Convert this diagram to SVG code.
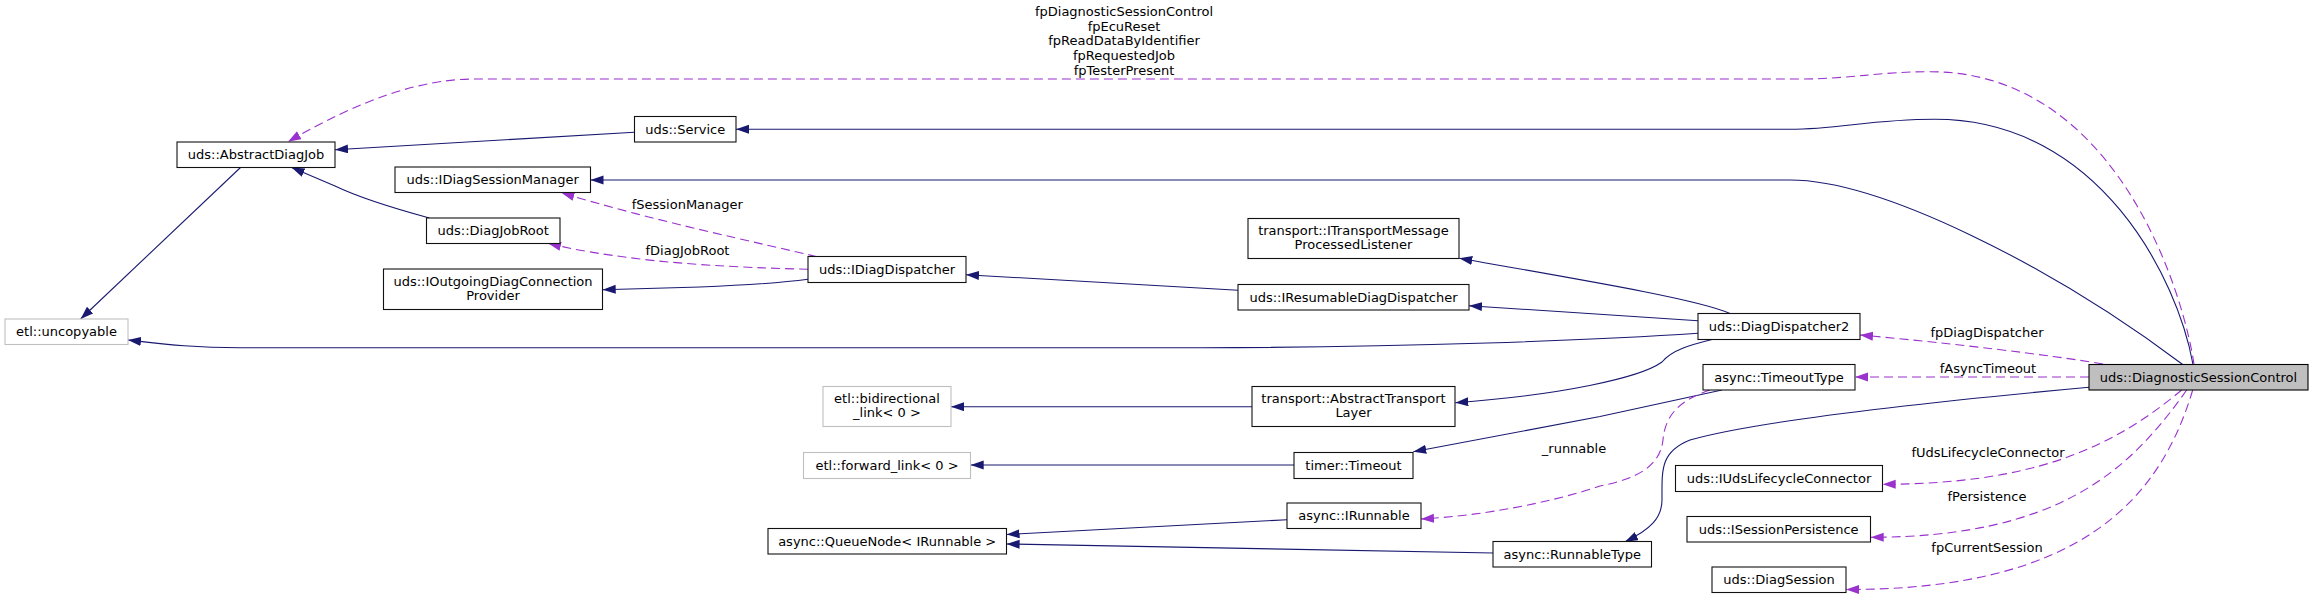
<svg xmlns="http://www.w3.org/2000/svg" width="2313" height="599" viewBox="0 0 2313 599">
<style>
.n rect{fill:#fff;stroke:#111;stroke-width:1.1}
.n.g rect{stroke:#bfbfbf}
.n.m rect{fill:#bfbfbf;stroke:#000}
text{font-family:"DejaVu Sans","Liberation Sans",sans-serif;font-size:13px;fill:#000;text-anchor:middle}
.e path{fill:none;stroke-width:1.1}
.i{stroke:#191970;marker-end:url(#ai)}
.u{stroke:#9a32cd;stroke-dasharray:9,5;marker-end:url(#au)}
</style>
<defs>
<marker id="ai" markerUnits="userSpaceOnUse" markerWidth="14" markerHeight="10" refX="13" refY="4.5" orient="auto"><path d="M0,0 L13,4.5 L0,9 z" fill="#191970"/></marker>
<marker id="au" markerUnits="userSpaceOnUse" markerWidth="14" markerHeight="10" refX="13" refY="4.5" orient="auto"><path d="M0,0 L13,4.5 L0,9 z" fill="#9a32cd"/></marker>
</defs>
<rect width="2313" height="599" fill="#fff"/>
<g id="edges" class="e">
<path class="i" d="M634.5,132.3 L335,149.7"/>
<path class="i" d="M429.4,218 C400,210 360,198 335,186 L291.6,167.5"/>
<path class="i" d="M240.5,167.5 L80.6,319"/>
<path class="i" d="M2193,364.5 C2178,280 2100,119.3 1935,119.3 C1870,119.3 1840,129.3 1790,129.3 L736,129.3"/>
<path class="i" d="M2182.7,364.5 C2050,265 1880,180 1790,180 L590.5,180"/>
<path class="i" d="M1730,313.5 C1700,300 1600,283 1459.3,258.3"/>
<path class="i" d="M1698,320.7 L1469,305.7"/>
<path class="i" d="M1238,290.3 L966,274.7"/>
<path class="i" d="M808,279.3 C780,283 750,285 700,287 L602.7,289.7"/>
<path class="i" d="M1698,333.3 C1600,340 1400,347.7 1200,347.7 L240,347.7 C190,347.7 160,343.5 128,340"/>
<path class="i" d="M1713,339.3 C1690,345 1672,350 1662,362 C1640,378 1560,395 1455.3,402.7"/>
<path class="i" d="M1252,406.7 L951,406.7"/>
<path class="i" d="M1722,390 L1600,416.5 L1413.3,451.7"/>
<path class="i" d="M1294,465 L970.7,465"/>
<path class="i" d="M1287,519.7 L1006.6,534.5"/>
<path class="i" d="M1493,553 C1300,550 1150,547 1006.6,544"/>
<path class="i" d="M2089,387.3 C1950,400 1760,420 1690,440 C1660,452 1662,470 1662,500 C1662,518 1650,530 1625,541.7"/>
<path class="u" d="M2194,364.5 C2185,300 2120,71.7 1930,71.7 C1880,71.7 1850,79 1800,79 L475,79 C420,79 360,100 288,141.7"/>
<path class="u" d="M817,256.7 C760,243 650,220 561.4,192.7"/>
<path class="u" d="M808,269.3 C760,268 700,266 640,259 C600,254 575,250 548,243.3"/>
<path class="u" d="M2103,364 C2050,355 1950,343 1860,335"/>
<path class="u" d="M2089,377 L1855,377"/>
<path class="u" d="M1710,390 C1680,400 1665,415 1663,440 C1660,465 1640,478 1600,486 C1550,503 1480,516 1421,519"/>
<path class="u" d="M2181.7,390 C2110,450 2030,484 1882.7,484.3"/>
<path class="u" d="M2186.7,390 C2130,470 2060,537 1870.7,537.3"/>
<path class="u" d="M2192.7,390 C2160,500 2080,590 1846,589.5"/>
<text x="1124" y="16.2">fpDiagnosticSessionControl</text>
<text x="1124" y="30.8">fpEcuReset</text>
<text x="1124" y="45.2">fpReadDataByIdentifier</text>
<text x="1124" y="59.8">fpRequestedJob</text>
<text x="1124" y="74.5">fpTesterPresent</text>
<text x="687.3" y="208.8">fSessionManager</text>
<text x="687.5" y="254.8">fDiagJobRoot</text>
<text x="1987" y="336.8">fpDiagDispatcher</text>
<text x="1988" y="372.8">fAsyncTimeout</text>
<text x="1574" y="452.8">_runnable</text>
<text x="1988" y="456.8">fUdsLifecycleConnector</text>
<text x="1987" y="500.8">fPersistence</text>
<text x="1987" y="551.8">fpCurrentSession</text>
</g>
<g id="n_AbstractDiagJob" class="n"><rect x="177" y="142" width="158" height="25.5"/><text x="256" y="159">uds::AbstractDiagJob</text></g>
<g id="n_Service" class="n"><rect x="634.5" y="116.5" width="101.5" height="25.5"/><text x="685.2" y="133.7">uds::Service</text></g>
<g id="n_IDiagSessionManager" class="n"><rect x="395" y="167" width="195.5" height="25.5"/><text x="492.7" y="184.2">uds::IDiagSessionManager</text></g>
<g id="n_DiagJobRoot" class="n"><rect x="426.5" y="218" width="133.5" height="25.5"/><text x="493.2" y="235.2">uds::DiagJobRoot</text></g>
<g id="n_IOutgoingDiagConnectionProvider" class="n"><rect x="383.5" y="269" width="219" height="40.5"/><text x="493" y="285.7">uds::IOutgoingDiagConnection</text><text x="493" y="299.9">Provider</text></g>
<g id="n_uncopyable" class="n g"><rect x="5" y="319" width="123" height="25.5"/><text x="66.5" y="336.2">etl::uncopyable</text></g>
<g id="n_IDiagDispatcher" class="n"><rect x="808" y="256.5" width="158" height="26"/><text x="887" y="274">uds::IDiagDispatcher</text></g>
<g id="n_ITransportMessageProcessedListener" class="n"><rect x="1248" y="218.5" width="211" height="40"/><text x="1353.5" y="234.8">transport::ITransportMessage</text><text x="1353.5" y="248.8">ProcessedListener</text></g>
<g id="n_IResumableDiagDispatcher" class="n"><rect x="1238" y="284.5" width="231" height="25.5"/><text x="1353.5" y="301.7">uds::IResumableDiagDispatcher</text></g>
<g id="n_DiagDispatcher2" class="n"><rect x="1698" y="313.5" width="162" height="26"/><text x="1779" y="331">uds::DiagDispatcher2</text></g>
<g id="n_bidirectional_link" class="n g"><rect x="823" y="386.5" width="128" height="40"/><text x="887" y="402.8">etl::bidirectional</text><text x="887" y="416.8">_link&lt; 0 &gt;</text></g>
<g id="n_AbstractTransportLayer" class="n"><rect x="1252" y="386.5" width="203" height="40"/><text x="1353.5" y="403.2">transport::AbstractTransport</text><text x="1353.5" y="417.2">Layer</text></g>
<g id="n_TimeoutType" class="n"><rect x="1703" y="364.5" width="152" height="25.5"/><text x="1779" y="381.7">async::TimeoutType</text></g>
<g id="n_forward_link" class="n g"><rect x="803.5" y="452.5" width="167" height="26"/><text x="887" y="470">etl::forward_link&lt; 0 &gt;</text></g>
<g id="n_Timeout" class="n"><rect x="1294" y="452.5" width="119" height="26"/><text x="1353.5" y="470">timer::Timeout</text></g>
<g id="n_DiagnosticSessionControl" class="n m"><rect x="2089" y="364.5" width="219" height="25.5"/><text x="2198.5" y="381.7">uds::DiagnosticSessionControl</text></g>
<g id="n_IRunnable" class="n"><rect x="1287" y="503" width="134" height="25.5"/><text x="1354" y="520.2">async::IRunnable</text></g>
<g id="n_QueueNode" class="n"><rect x="768" y="528.5" width="238.5" height="25.5"/><text x="887.2" y="545.7">async::QueueNode&lt; IRunnable &gt;</text></g>
<g id="n_RunnableType" class="n"><rect x="1493" y="541.5" width="158.5" height="25.5"/><text x="1572.2" y="558.7">async::RunnableType</text></g>
<g id="n_IUdsLifecycleConnector" class="n"><rect x="1675.5" y="465.5" width="207" height="26"/><text x="1779" y="483">uds::IUdsLifecycleConnector</text></g>
<g id="n_ISessionPersistence" class="n"><rect x="1687" y="516.5" width="183.5" height="25.5"/><text x="1778.7" y="533.7">uds::ISessionPersistence</text></g>
<g id="n_DiagSession" class="n"><rect x="1712" y="567" width="134" height="25.5"/><text x="1779" y="584.2">uds::DiagSession</text></g>
</svg>
